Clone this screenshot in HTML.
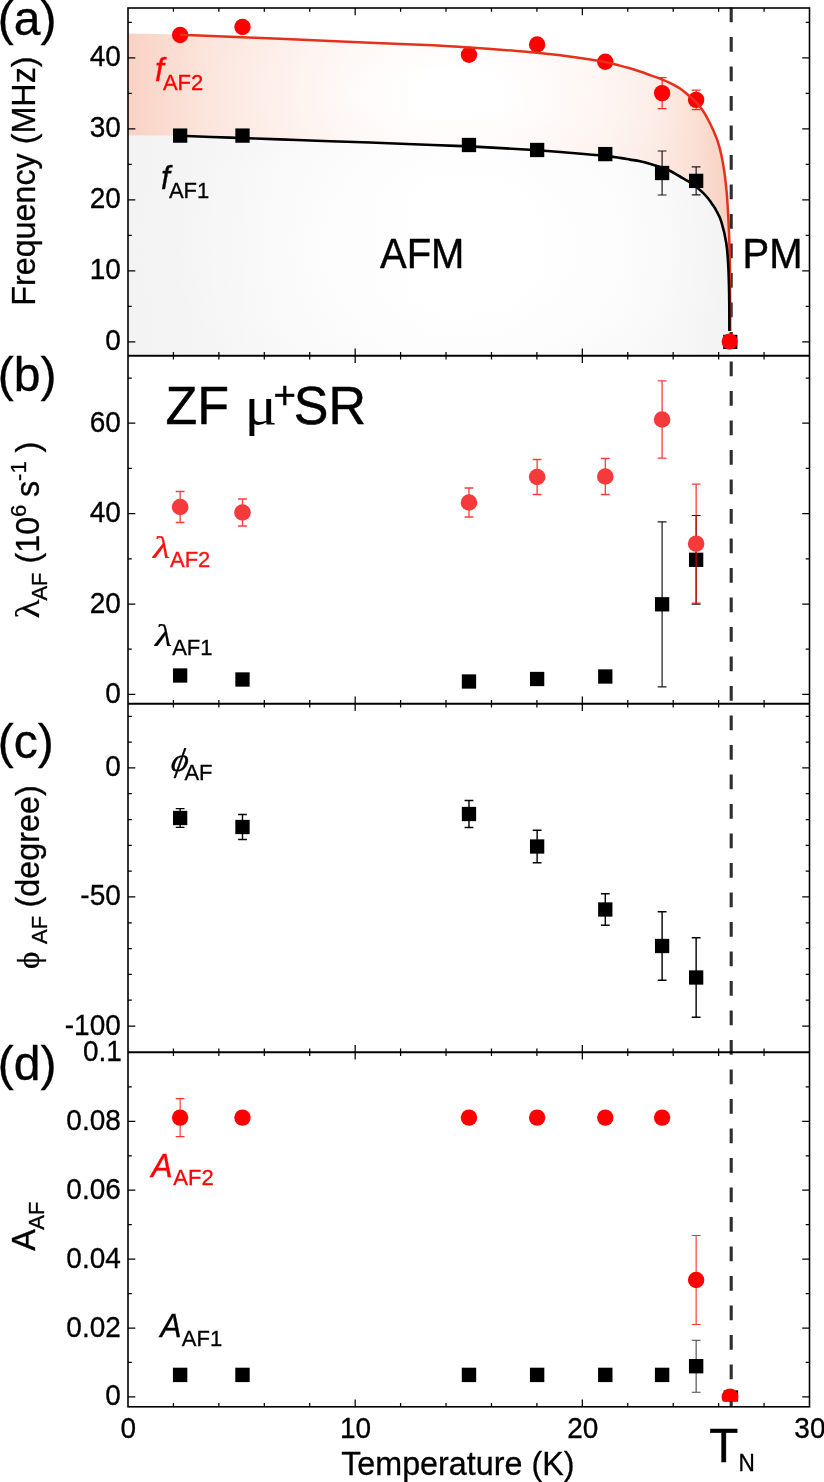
<!DOCTYPE html>
<html lang="en">
<head>
<meta charset="utf-8">
<title>ZF muSR parameters vs temperature</title>
<style>
html,body{margin:0;padding:0;background:#fff;}
body{width:824px;height:1482px;overflow:hidden;}
svg{display:block;font-family:'Liberation Sans', Arial, Helvetica, sans-serif;will-change:transform;}
text{white-space:pre;}
</style>
</head>
<body>
<svg width="824" height="1482" viewBox="0 0 824 1482">
<rect x="0" y="0" width="824" height="1482" fill="#ffffff"/>
<defs>
<linearGradient id="go" gradientUnits="userSpaceOnUse" x1="128" y1="0" x2="730" y2="0"><stop offset="0.0000" stop-color="#f9d2c4"/><stop offset="0.0532" stop-color="#fadcd1"/><stop offset="0.1196" stop-color="#fce8e0"/><stop offset="0.2027" stop-color="#fdf0eb"/><stop offset="0.2857" stop-color="#fef6f3"/><stop offset="0.3688" stop-color="#fefbfa"/><stop offset="0.4518" stop-color="#fffefd"/><stop offset="0.5017" stop-color="#ffffff"/><stop offset="0.6013" stop-color="#ffffff"/><stop offset="0.6844" stop-color="#fffdfd"/><stop offset="0.7841" stop-color="#fefaf8"/><stop offset="0.8671" stop-color="#fdf3ef"/><stop offset="0.9336" stop-color="#fce6dd"/><stop offset="0.9751" stop-color="#fad8cb"/><stop offset="1.0000" stop-color="#f9d1c2"/></linearGradient>
<radialGradient id="gv" gradientUnits="userSpaceOnUse" cx="440" cy="93" r="300" gradientTransform="translate(440 93) scale(1 0.33) translate(-440 -93)"><stop offset="0.2" stop-color="#f9d1c2" stop-opacity="0"/><stop offset="0.6" stop-color="#f9d1c2" stop-opacity="0.10"/><stop offset="1" stop-color="#f9d1c2" stop-opacity="0.22"/></radialGradient>
<linearGradient id="gg" gradientUnits="userSpaceOnUse" x1="128" y1="0" x2="730" y2="0"><stop offset="0.0000" stop-color="#f3f3f3"/><stop offset="0.0864" stop-color="#f5f5f5"/><stop offset="0.2027" stop-color="#f9f9f9"/><stop offset="0.3189" stop-color="#fcfcfc"/><stop offset="0.4352" stop-color="#fefefe"/><stop offset="0.5183" stop-color="#ffffff"/><stop offset="0.6179" stop-color="#ffffff"/><stop offset="0.7176" stop-color="#fefefe"/><stop offset="0.8173" stop-color="#fdfdfd"/><stop offset="0.9003" stop-color="#fafafa"/><stop offset="0.9585" stop-color="#f6f6f6"/><stop offset="1.0000" stop-color="#f3f3f3"/></linearGradient>
<radialGradient id="ggv" gradientUnits="userSpaceOnUse" cx="440" cy="245" r="320" gradientTransform="translate(440 245) scale(1 0.42) translate(-440 -245)"><stop offset="0.4" stop-color="#f2f2f2" stop-opacity="0"/><stop offset="0.8" stop-color="#f2f2f2" stop-opacity="0.15"/><stop offset="1" stop-color="#f2f2f2" stop-opacity="0.35"/></radialGradient>
</defs>
<path d="M128 135.4 L180 135.6 L180 135.8 C188.33 136.1 213.33 137 230 137.6 C246.67 138.2 263.33 138.8 280 139.4 C296.67 140 315 140.68 330 141.2 C345 141.72 352.83 141.87 370 142.5 C387.17 143.13 416.43 144.35 433 145 C449.57 145.65 456.23 145.78 469.4 146.4 C482.57 147.02 500.73 148.05 512 148.7 C523.27 149.35 526.5 149.55 537 150.3 C547.5 151.05 563.67 152.27 575 153.2 C586.33 154.13 597.5 155.12 605 155.9 C612.5 156.68 615.83 157.28 620 157.9 C624.17 158.52 626.67 159.03 630 159.6 C633.33 160.17 636.32 160.5 640 161.3 C643.68 162.1 648.47 163.38 652.1 164.4 C655.73 165.42 658.77 166.3 661.8 167.4 C664.83 168.5 667.27 169.48 670.3 171 C673.33 172.52 676.97 174.77 680 176.5 C683.03 178.23 685.67 179.58 688.5 181.4 C691.33 183.22 694.57 185.48 697 187.4 C699.43 189.32 701.27 191.08 703.1 192.9 C704.93 194.72 706.38 196.28 708 198.3 C709.62 200.32 711.43 202.97 712.8 205 C714.17 207.03 714.78 207.73 716.2 210.5 C717.62 213.27 719.62 216.15 721.3 221.6 C722.98 227.05 725.15 236.02 726.3 243.2 C727.45 250.38 727.75 257.52 728.2 264.7 C728.65 271.88 728.82 279.1 729 286.3 C729.18 293.5 729.23 300.45 729.3 307.9 C729.37 315.35 729.38 327.15 729.4 331 L729.6 354 L128 354 Z" fill="url(#gg)"/>
<path d="M128 135.4 L180 135.6 L180 135.8 C188.33 136.1 213.33 137 230 137.6 C246.67 138.2 263.33 138.8 280 139.4 C296.67 140 315 140.68 330 141.2 C345 141.72 352.83 141.87 370 142.5 C387.17 143.13 416.43 144.35 433 145 C449.57 145.65 456.23 145.78 469.4 146.4 C482.57 147.02 500.73 148.05 512 148.7 C523.27 149.35 526.5 149.55 537 150.3 C547.5 151.05 563.67 152.27 575 153.2 C586.33 154.13 597.5 155.12 605 155.9 C612.5 156.68 615.83 157.28 620 157.9 C624.17 158.52 626.67 159.03 630 159.6 C633.33 160.17 636.32 160.5 640 161.3 C643.68 162.1 648.47 163.38 652.1 164.4 C655.73 165.42 658.77 166.3 661.8 167.4 C664.83 168.5 667.27 169.48 670.3 171 C673.33 172.52 676.97 174.77 680 176.5 C683.03 178.23 685.67 179.58 688.5 181.4 C691.33 183.22 694.57 185.48 697 187.4 C699.43 189.32 701.27 191.08 703.1 192.9 C704.93 194.72 706.38 196.28 708 198.3 C709.62 200.32 711.43 202.97 712.8 205 C714.17 207.03 714.78 207.73 716.2 210.5 C717.62 213.27 719.62 216.15 721.3 221.6 C722.98 227.05 725.15 236.02 726.3 243.2 C727.45 250.38 727.75 257.52 728.2 264.7 C728.65 271.88 728.82 279.1 729 286.3 C729.18 293.5 729.23 300.45 729.3 307.9 C729.37 315.35 729.38 327.15 729.4 331 L729.6 354 L128 354 Z" fill="url(#ggv)"/>
<path d="M128 33.6 L180 34.4 L180 34.8 C188.33 35.13 213.33 36.13 230 36.8 C246.67 37.47 263.33 38.12 280 38.8 C296.67 39.48 315 40.25 330 40.9 C345 41.55 352.83 41.98 370 42.7 C387.17 43.42 416.43 44.38 433 45.2 C449.57 46.02 456.23 46.7 469.4 47.6 C482.57 48.5 500.73 49.73 512 50.6 C523.27 51.47 526.5 51.7 537 52.8 C547.5 53.9 563.67 55.67 575 57.2 C586.33 58.73 597.5 60.6 605 62 C612.5 63.4 615.83 64.55 620 65.6 C624.17 66.65 626.67 67.32 630 68.3 C633.33 69.28 636.32 70.25 640 71.5 C643.68 72.75 648.47 74.48 652.1 75.8 C655.73 77.12 658.77 78.18 661.8 79.4 C664.83 80.62 667.27 81.58 670.3 83.1 C673.33 84.62 676.97 86.48 680 88.5 C683.03 90.52 685.67 92.77 688.5 95.2 C691.33 97.63 694.57 100.47 697 103.1 C699.43 105.73 701.27 108.27 703.1 111 C704.93 113.73 706.38 116.47 708 119.5 C709.62 122.53 711.18 125.57 712.8 129.2 C714.42 132.83 716.28 137.05 717.7 141.3 C719.12 145.55 720.2 149.63 721.3 154.7 C722.4 159.77 723.48 166.25 724.3 171.7 C725.12 177.15 725.7 182.68 726.2 187.4 C726.7 192.12 726.92 194.3 727.3 200 C727.68 205.7 728.15 214.4 728.5 221.6 C728.85 228.8 729.15 234.22 729.4 243.2 C729.65 252.18 729.87 260.87 730 275.5 C730.13 290.13 730.17 321.75 730.2 331 L730.2 342 L729.4 342 L729.4 331 C729.38 327.15 729.37 315.35 729.3 307.9 C729.23 300.45 729.18 293.5 729 286.3 C728.82 279.1 728.65 271.88 728.2 264.7 C727.75 257.52 727.45 250.38 726.3 243.2 C725.15 236.02 722.98 227.05 721.3 221.6 C719.62 216.15 717.62 213.27 716.2 210.5 C714.78 207.73 714.17 207.03 712.8 205 C711.43 202.97 709.62 200.32 708 198.3 C706.38 196.28 704.93 194.72 703.1 192.9 C701.27 191.08 699.43 189.32 697 187.4 C694.57 185.48 691.33 183.22 688.5 181.4 C685.67 179.58 683.03 178.23 680 176.5 C676.97 174.77 673.33 172.52 670.3 171 C667.27 169.48 664.83 168.5 661.8 167.4 C658.77 166.3 655.73 165.42 652.1 164.4 C648.47 163.38 643.68 162.1 640 161.3 C636.32 160.5 633.33 160.17 630 159.6 C626.67 159.03 624.17 158.52 620 157.9 C615.83 157.28 612.5 156.68 605 155.9 C597.5 155.12 586.33 154.13 575 153.2 C563.67 152.27 547.5 151.05 537 150.3 C526.5 149.55 523.27 149.35 512 148.7 C500.73 148.05 482.57 147.02 469.4 146.4 C456.23 145.78 449.57 145.65 433 145 C416.43 144.35 387.17 143.13 370 142.5 C352.83 141.87 345 141.72 330 141.2 C315 140.68 296.67 140 280 139.4 C263.33 138.8 246.67 138.2 230 137.6 C213.33 137 188.33 136.1 180 135.8 L128 135.4 Z" fill="url(#go)"/>
<path d="M128 33.6 L180 34.4 L180 34.8 C188.33 35.13 213.33 36.13 230 36.8 C246.67 37.47 263.33 38.12 280 38.8 C296.67 39.48 315 40.25 330 40.9 C345 41.55 352.83 41.98 370 42.7 C387.17 43.42 416.43 44.38 433 45.2 C449.57 46.02 456.23 46.7 469.4 47.6 C482.57 48.5 500.73 49.73 512 50.6 C523.27 51.47 526.5 51.7 537 52.8 C547.5 53.9 563.67 55.67 575 57.2 C586.33 58.73 597.5 60.6 605 62 C612.5 63.4 615.83 64.55 620 65.6 C624.17 66.65 626.67 67.32 630 68.3 C633.33 69.28 636.32 70.25 640 71.5 C643.68 72.75 648.47 74.48 652.1 75.8 C655.73 77.12 658.77 78.18 661.8 79.4 C664.83 80.62 667.27 81.58 670.3 83.1 C673.33 84.62 676.97 86.48 680 88.5 C683.03 90.52 685.67 92.77 688.5 95.2 C691.33 97.63 694.57 100.47 697 103.1 C699.43 105.73 701.27 108.27 703.1 111 C704.93 113.73 706.38 116.47 708 119.5 C709.62 122.53 711.18 125.57 712.8 129.2 C714.42 132.83 716.28 137.05 717.7 141.3 C719.12 145.55 720.2 149.63 721.3 154.7 C722.4 159.77 723.48 166.25 724.3 171.7 C725.12 177.15 725.7 182.68 726.2 187.4 C726.7 192.12 726.92 194.3 727.3 200 C727.68 205.7 728.15 214.4 728.5 221.6 C728.85 228.8 729.15 234.22 729.4 243.2 C729.65 252.18 729.87 260.87 730 275.5 C730.13 290.13 730.17 321.75 730.2 331 L730.2 342 L729.4 342 L729.4 331 C729.38 327.15 729.37 315.35 729.3 307.9 C729.23 300.45 729.18 293.5 729 286.3 C728.82 279.1 728.65 271.88 728.2 264.7 C727.75 257.52 727.45 250.38 726.3 243.2 C725.15 236.02 722.98 227.05 721.3 221.6 C719.62 216.15 717.62 213.27 716.2 210.5 C714.78 207.73 714.17 207.03 712.8 205 C711.43 202.97 709.62 200.32 708 198.3 C706.38 196.28 704.93 194.72 703.1 192.9 C701.27 191.08 699.43 189.32 697 187.4 C694.57 185.48 691.33 183.22 688.5 181.4 C685.67 179.58 683.03 178.23 680 176.5 C676.97 174.77 673.33 172.52 670.3 171 C667.27 169.48 664.83 168.5 661.8 167.4 C658.77 166.3 655.73 165.42 652.1 164.4 C648.47 163.38 643.68 162.1 640 161.3 C636.32 160.5 633.33 160.17 630 159.6 C626.67 159.03 624.17 158.52 620 157.9 C615.83 157.28 612.5 156.68 605 155.9 C597.5 155.12 586.33 154.13 575 153.2 C563.67 152.27 547.5 151.05 537 150.3 C526.5 149.55 523.27 149.35 512 148.7 C500.73 148.05 482.57 147.02 469.4 146.4 C456.23 145.78 449.57 145.65 433 145 C416.43 144.35 387.17 143.13 370 142.5 C352.83 141.87 345 141.72 330 141.2 C315 140.68 296.67 140 280 139.4 C263.33 138.8 246.67 138.2 230 137.6 C213.33 137 188.33 136.1 180 135.8 L128 135.4 Z" fill="url(#gv)"/>
<line x1="731.2" y1="7.5" x2="731.2" y2="1406.8" stroke="#2e2e2e" stroke-width="3.1" stroke-dasharray="14.8 14.7"/>
<rect x="128" y="8" width="681.5" height="1398.8" stroke="#000" stroke-width="1.6" fill="none"/>
<line x1="128" y1="355.8" x2="809.5" y2="355.8" stroke="#000" stroke-width="2"/>
<line x1="128" y1="703.8" x2="809.5" y2="703.8" stroke="#000" stroke-width="2"/>
<line x1="128" y1="1052.2" x2="809.5" y2="1052.2" stroke="#000" stroke-width="2"/>
<path d="M173.43 8L173.43 11.8 M173.43 1406.8L173.43 1403 M173.43 352L173.43 359.6 M173.43 700L173.43 707.6 M173.43 1048.4L173.43 1056 M218.87 8L218.87 11.8 M218.87 1406.8L218.87 1403 M218.87 352L218.87 359.6 M218.87 700L218.87 707.6 M218.87 1048.4L218.87 1056 M264.3 8L264.3 11.8 M264.3 1406.8L264.3 1403 M264.3 352L264.3 359.6 M264.3 700L264.3 707.6 M264.3 1048.4L264.3 1056 M309.73 8L309.73 11.8 M309.73 1406.8L309.73 1403 M309.73 352L309.73 359.6 M309.73 700L309.73 707.6 M309.73 1048.4L309.73 1056 M355.17 8L355.17 15.3 M355.17 1406.8L355.17 1399.5 M355.17 348.5L355.17 363.1 M355.17 696.5L355.17 711.1 M355.17 1044.9L355.17 1059.5 M400.6 8L400.6 11.8 M400.6 1406.8L400.6 1403 M400.6 352L400.6 359.6 M400.6 700L400.6 707.6 M400.6 1048.4L400.6 1056 M446.03 8L446.03 11.8 M446.03 1406.8L446.03 1403 M446.03 352L446.03 359.6 M446.03 700L446.03 707.6 M446.03 1048.4L446.03 1056 M491.47 8L491.47 11.8 M491.47 1406.8L491.47 1403 M491.47 352L491.47 359.6 M491.47 700L491.47 707.6 M491.47 1048.4L491.47 1056 M536.9 8L536.9 11.8 M536.9 1406.8L536.9 1403 M536.9 352L536.9 359.6 M536.9 700L536.9 707.6 M536.9 1048.4L536.9 1056 M582.33 8L582.33 15.3 M582.33 1406.8L582.33 1399.5 M582.33 348.5L582.33 363.1 M582.33 696.5L582.33 711.1 M582.33 1044.9L582.33 1059.5 M627.77 8L627.77 11.8 M627.77 1406.8L627.77 1403 M627.77 352L627.77 359.6 M627.77 700L627.77 707.6 M627.77 1048.4L627.77 1056 M673.2 8L673.2 11.8 M673.2 1406.8L673.2 1403 M673.2 352L673.2 359.6 M673.2 700L673.2 707.6 M673.2 1048.4L673.2 1056 M718.63 8L718.63 11.8 M718.63 1406.8L718.63 1403 M718.63 352L718.63 359.6 M718.63 700L718.63 707.6 M718.63 1048.4L718.63 1056 M764.07 8L764.07 11.8 M764.07 1406.8L764.07 1403 M764.07 352L764.07 359.6 M764.07 700L764.07 707.6 M764.07 1048.4L764.07 1056 M128 341.8L135.3 341.8 M809.5 341.8L802.2 341.8 M128 270.8L135.3 270.8 M809.5 270.8L802.2 270.8 M128 199.8L135.3 199.8 M809.5 199.8L802.2 199.8 M128 128.8L135.3 128.8 M809.5 128.8L802.2 128.8 M128 57.8L135.3 57.8 M809.5 57.8L802.2 57.8 M128 306.3L131.8 306.3 M809.5 306.3L805.7 306.3 M128 235.3L131.8 235.3 M809.5 235.3L805.7 235.3 M128 164.3L131.8 164.3 M809.5 164.3L805.7 164.3 M128 93.3L131.8 93.3 M809.5 93.3L805.7 93.3 M128 22.3L131.8 22.3 M809.5 22.3L805.7 22.3 M128 694.4L135.3 694.4 M809.5 694.4L802.2 694.4 M128 604L135.3 604 M809.5 604L802.2 604 M128 513.6L135.3 513.6 M809.5 513.6L802.2 513.6 M128 423.2L135.3 423.2 M809.5 423.2L802.2 423.2 M128 649.2L131.8 649.2 M809.5 649.2L805.7 649.2 M128 558.8L131.8 558.8 M809.5 558.8L805.7 558.8 M128 468.4L131.8 468.4 M809.5 468.4L805.7 468.4 M128 378L131.8 378 M809.5 378L805.7 378 M128 767.9L135.3 767.9 M809.5 767.9L802.2 767.9 M128 896.95L135.3 896.95 M809.5 896.95L802.2 896.95 M128 1026L135.3 1026 M809.5 1026L802.2 1026 M128 716.28L131.8 716.28 M809.5 716.28L805.7 716.28 M128 742.09L131.8 742.09 M809.5 742.09L805.7 742.09 M128 793.71L131.8 793.71 M809.5 793.71L805.7 793.71 M128 819.52L131.8 819.52 M809.5 819.52L805.7 819.52 M128 845.33L131.8 845.33 M809.5 845.33L805.7 845.33 M128 871.14L131.8 871.14 M809.5 871.14L805.7 871.14 M128 922.76L131.8 922.76 M809.5 922.76L805.7 922.76 M128 948.57L131.8 948.57 M809.5 948.57L805.7 948.57 M128 974.38L131.8 974.38 M809.5 974.38L805.7 974.38 M128 1000.19L131.8 1000.19 M809.5 1000.19L805.7 1000.19 M128 1396.9L135.3 1396.9 M809.5 1396.9L802.2 1396.9 M128 1328L135.3 1328 M809.5 1328L802.2 1328 M128 1259.1L135.3 1259.1 M809.5 1259.1L802.2 1259.1 M128 1190.2L135.3 1190.2 M809.5 1190.2L802.2 1190.2 M128 1121.3L135.3 1121.3 M809.5 1121.3L802.2 1121.3 M128 1362.45L131.8 1362.45 M809.5 1362.45L805.7 1362.45 M128 1293.55L131.8 1293.55 M809.5 1293.55L805.7 1293.55 M128 1224.65L131.8 1224.65 M809.5 1224.65L805.7 1224.65 M128 1155.75L131.8 1155.75 M809.5 1155.75L805.7 1155.75 M128 1086.85L131.8 1086.85 M809.5 1086.85L805.7 1086.85" stroke="#000" stroke-width="1.25" fill="none"/>
<path d="M662.11 77.6V108.6 M657.71 77.6H666.51 M657.71 108.6H666.51" stroke="#ff2a2a" stroke-width="1.2" fill="none" opacity="1"/>
<path d="M696.14 90.1V109.7 M691.74 90.1H700.54 M691.74 109.7H700.54" stroke="#ff2a2a" stroke-width="1.2" fill="none" opacity="1"/>
<circle cx="180.13" cy="35" r="8.2" fill="#ff0000"/>
<circle cx="242.49" cy="27" r="8.2" fill="#ff0000"/>
<circle cx="468.98" cy="54.8" r="8.2" fill="#ff0000"/>
<circle cx="537.13" cy="44.5" r="8.2" fill="#ff0000"/>
<circle cx="605.28" cy="61.7" r="8.2" fill="#ff0000"/>
<circle cx="662.11" cy="93.1" r="8.2" fill="#ff0000"/>
<circle cx="696.14" cy="99.9" r="8.2" fill="#ff0000"/>
<path d="M180 34.8 C188.33 35.13 213.33 36.13 230 36.8 C246.67 37.47 263.33 38.12 280 38.8 C296.67 39.48 315 40.25 330 40.9 C345 41.55 352.83 41.98 370 42.7 C387.17 43.42 416.43 44.38 433 45.2 C449.57 46.02 456.23 46.7 469.4 47.6 C482.57 48.5 500.73 49.73 512 50.6 C523.27 51.47 526.5 51.7 537 52.8 C547.5 53.9 563.67 55.67 575 57.2 C586.33 58.73 597.5 60.6 605 62 C612.5 63.4 615.83 64.55 620 65.6 C624.17 66.65 626.67 67.32 630 68.3 C633.33 69.28 636.32 70.25 640 71.5 C643.68 72.75 648.47 74.48 652.1 75.8 C655.73 77.12 658.77 78.18 661.8 79.4 C664.83 80.62 667.27 81.58 670.3 83.1 C673.33 84.62 676.97 86.48 680 88.5 C683.03 90.52 685.67 92.77 688.5 95.2 C691.33 97.63 694.57 100.47 697 103.1 C699.43 105.73 701.27 108.27 703.1 111 C704.93 113.73 706.38 116.47 708 119.5 C709.62 122.53 711.18 125.57 712.8 129.2 C714.42 132.83 716.28 137.05 717.7 141.3 C719.12 145.55 720.2 149.63 721.3 154.7 C722.4 159.77 723.48 166.25 724.3 171.7 C725.12 177.15 725.7 182.68 726.2 187.4 C726.7 192.12 726.92 194.3 727.3 200 C727.68 205.7 728.15 214.4 728.5 221.6 C728.85 228.8 729.15 234.22 729.4 243.2 C729.65 252.18 729.87 260.87 730 275.5 C730.13 290.13 730.17 321.75 730.2 331" fill="none" stroke="#e5301c" stroke-width="2.5"/>
<path d="M662.11 151V195 M657.71 151H666.51 M657.71 195H666.51" stroke="#1a1a1a" stroke-width="1.2" fill="none" opacity="1"/>
<path d="M696.14 166.9V194.9 M691.74 166.9H700.54 M691.74 194.9H700.54" stroke="#1a1a1a" stroke-width="1.2" fill="none" opacity="1"/>
<rect x="172.98" y="128.45" width="14.3" height="14.3" fill="#000"/>
<rect x="235.34" y="128.45" width="14.3" height="14.3" fill="#000"/>
<rect x="461.83" y="137.85" width="14.3" height="14.3" fill="#000"/>
<rect x="529.98" y="142.85" width="14.3" height="14.3" fill="#000"/>
<rect x="598.13" y="146.95" width="14.3" height="14.3" fill="#000"/>
<rect x="654.96" y="165.85" width="14.3" height="14.3" fill="#000"/>
<rect x="688.99" y="173.75" width="14.3" height="14.3" fill="#000"/>
<path d="M180 135.8 C188.33 136.1 213.33 137 230 137.6 C246.67 138.2 263.33 138.8 280 139.4 C296.67 140 315 140.68 330 141.2 C345 141.72 352.83 141.87 370 142.5 C387.17 143.13 416.43 144.35 433 145 C449.57 145.65 456.23 145.78 469.4 146.4 C482.57 147.02 500.73 148.05 512 148.7 C523.27 149.35 526.5 149.55 537 150.3 C547.5 151.05 563.67 152.27 575 153.2 C586.33 154.13 597.5 155.12 605 155.9 C612.5 156.68 615.83 157.28 620 157.9 C624.17 158.52 626.67 159.03 630 159.6 C633.33 160.17 636.32 160.5 640 161.3 C643.68 162.1 648.47 163.38 652.1 164.4 C655.73 165.42 658.77 166.3 661.8 167.4 C664.83 168.5 667.27 169.48 670.3 171 C673.33 172.52 676.97 174.77 680 176.5 C683.03 178.23 685.67 179.58 688.5 181.4 C691.33 183.22 694.57 185.48 697 187.4 C699.43 189.32 701.27 191.08 703.1 192.9 C704.93 194.72 706.38 196.28 708 198.3 C709.62 200.32 711.43 202.97 712.8 205 C714.17 207.03 714.78 207.73 716.2 210.5 C717.62 213.27 719.62 216.15 721.3 221.6 C722.98 227.05 725.15 236.02 726.3 243.2 C727.45 250.38 727.75 257.52 728.2 264.7 C728.65 271.88 728.82 279.1 729 286.3 C729.18 293.5 729.23 300.45 729.3 307.9 C729.37 315.35 729.38 327.15 729.4 331" fill="none" stroke="#000" stroke-width="2.6"/>
<rect x="723.19" y="334.8" width="14.2" height="14.2" fill="#000"/>
<circle cx="729.69" cy="341.6" r="8.1" fill="#ff0000"/>
<path d="M662.11 521.8V686.8 M657.71 521.8H666.51 M657.71 686.8H666.51" stroke="#1a1a1a" stroke-width="1.2" fill="none" opacity="1"/>
<path d="M696.14 515.5V604.1 M691.74 515.5H700.54 M691.74 604.1H700.54" stroke="#1a1a1a" stroke-width="1.2" fill="none" opacity="1"/>
<rect x="172.98" y="668.35" width="14.3" height="14.3" fill="#000"/>
<rect x="235.34" y="672.35" width="14.3" height="14.3" fill="#000"/>
<rect x="461.83" y="674.35" width="14.3" height="14.3" fill="#000"/>
<rect x="529.98" y="671.85" width="14.3" height="14.3" fill="#000"/>
<rect x="598.13" y="669.35" width="14.3" height="14.3" fill="#000"/>
<rect x="654.96" y="597.15" width="14.3" height="14.3" fill="#000"/>
<rect x="688.99" y="552.65" width="14.3" height="14.3" fill="#000"/>
<g opacity="0.77">
<path d="M180.13 491.5V522.5 M175.73 491.5H184.53 M175.73 522.5H184.53" stroke="#ff0000" stroke-width="1.3" fill="none" opacity="1"/>
<path d="M242.49 499V526 M238.09 499H246.89 M238.09 526H246.89" stroke="#ff0000" stroke-width="1.3" fill="none" opacity="1"/>
<path d="M468.98 488V517 M464.58 488H473.38 M464.58 517H473.38" stroke="#ff0000" stroke-width="1.3" fill="none" opacity="1"/>
<path d="M537.13 459.5V494.5 M532.73 459.5H541.53 M532.73 494.5H541.53" stroke="#ff0000" stroke-width="1.3" fill="none" opacity="1"/>
<path d="M605.28 458.5V494.5 M600.88 458.5H609.68 M600.88 494.5H609.68" stroke="#ff0000" stroke-width="1.3" fill="none" opacity="1"/>
<path d="M662.11 380.8V458.2 M657.71 380.8H666.51 M657.71 458.2H666.51" stroke="#ff0000" stroke-width="1.3" fill="none" opacity="1"/>
<path d="M696.14 484.2V603.2 M691.74 484.2H700.54 M691.74 603.2H700.54" stroke="#ff0000" stroke-width="1.3" fill="none" opacity="1"/>
</g>
<circle cx="180.13" cy="507" r="8.3" fill="#f53a3c"/>
<circle cx="242.49" cy="512.5" r="8.3" fill="#f53a3c"/>
<circle cx="468.98" cy="502.5" r="8.3" fill="#f53a3c"/>
<circle cx="537.13" cy="477" r="8.3" fill="#f53a3c"/>
<circle cx="605.28" cy="476.5" r="8.3" fill="#f53a3c"/>
<circle cx="662.11" cy="419.5" r="8.3" fill="#f53a3c"/>
<circle cx="696.14" cy="543.7" r="8.3" fill="#f53a3c"/>
<path d="M180.13 808.6V827.4 M175.73 808.6H184.53 M175.73 827.4H184.53" stroke="#000" stroke-width="1.4" fill="none" opacity="1"/>
<path d="M242.49 814.5V839.5 M238.09 814.5H246.89 M238.09 839.5H246.89" stroke="#000" stroke-width="1.4" fill="none" opacity="1"/>
<path d="M468.98 800.5V827.5 M464.58 800.5H473.38 M464.58 827.5H473.38" stroke="#000" stroke-width="1.4" fill="none" opacity="1"/>
<path d="M537.13 830.3V862.7 M532.73 830.3H541.53 M532.73 862.7H541.53" stroke="#000" stroke-width="1.4" fill="none" opacity="1"/>
<path d="M605.28 893.8V925.2 M600.88 893.8H609.68 M600.88 925.2H609.68" stroke="#000" stroke-width="1.4" fill="none" opacity="1"/>
<path d="M662.11 911.8V980.2 M657.71 911.8H666.51 M657.71 980.2H666.51" stroke="#000" stroke-width="1.4" fill="none" opacity="1"/>
<path d="M696.14 937.8V1017.2 M691.74 937.8H700.54 M691.74 1017.2H700.54" stroke="#000" stroke-width="1.4" fill="none" opacity="1"/>
<rect x="172.98" y="810.85" width="14.3" height="14.3" fill="#000"/>
<rect x="235.34" y="819.85" width="14.3" height="14.3" fill="#000"/>
<rect x="461.83" y="806.85" width="14.3" height="14.3" fill="#000"/>
<rect x="529.98" y="839.35" width="14.3" height="14.3" fill="#000"/>
<rect x="598.13" y="902.35" width="14.3" height="14.3" fill="#000"/>
<rect x="654.96" y="938.85" width="14.3" height="14.3" fill="#000"/>
<rect x="688.99" y="970.35" width="14.3" height="14.3" fill="#000"/>
<path d="M696.14 1340.2V1392.2 M691.74 1340.2H700.54 M691.74 1392.2H700.54" stroke="#444" stroke-width="1.1" fill="none" opacity="1"/>
<rect x="172.93" y="1367.7" width="14.4" height="14.4" fill="#000"/>
<rect x="235.29" y="1367.7" width="14.4" height="14.4" fill="#000"/>
<rect x="461.78" y="1367.7" width="14.4" height="14.4" fill="#000"/>
<rect x="529.93" y="1367.7" width="14.4" height="14.4" fill="#000"/>
<rect x="598.08" y="1367.7" width="14.4" height="14.4" fill="#000"/>
<rect x="654.91" y="1367.7" width="14.4" height="14.4" fill="#000"/>
<rect x="688.94" y="1359" width="14.4" height="14.4" fill="#000"/>
<path d="M180.13 1098.6V1136.6 M175.73 1098.6H184.53 M175.73 1136.6H184.53" stroke="#ff3030" stroke-width="1.1" fill="none" opacity="1"/>
<path d="M696.14 1235.5V1324.5 M691.74 1235.5H700.54 M691.74 1324.5H700.54" stroke="#ff3030" stroke-width="1.1" fill="none" opacity="1"/>
<circle cx="180.13" cy="1117.6" r="8.2" fill="#ff0000"/>
<circle cx="242.49" cy="1117.6" r="8.2" fill="#ff0000"/>
<circle cx="468.98" cy="1117.6" r="8.2" fill="#ff0000"/>
<circle cx="537.13" cy="1117.6" r="8.2" fill="#ff0000"/>
<circle cx="605.28" cy="1117.6" r="8.2" fill="#ff0000"/>
<circle cx="662.11" cy="1117.6" r="8.2" fill="#ff0000"/>
<circle cx="696.14" cy="1280" r="8.2" fill="#ff0000"/>
<clipPath id="cd"><rect x="700" y="1380" width="60" height="21.5"/></clipPath>
<g clip-path="url(#cd)">
<rect x="723.69" y="1390.4" width="14.4" height="14.4" fill="#000"/>
<circle cx="729.99" cy="1397" r="8.4" fill="#ff0000"/>
</g>
<text transform="translate(120.8 350.3) scale(1 1.055)" font-size="28" fill="#000" stroke="#000" stroke-width="0.3" text-anchor="end" >0</text>
<text transform="translate(120.8 279.3) scale(1 1.055)" font-size="28" fill="#000" stroke="#000" stroke-width="0.3" text-anchor="end" >10</text>
<text transform="translate(120.8 208.3) scale(1 1.055)" font-size="28" fill="#000" stroke="#000" stroke-width="0.3" text-anchor="end" >20</text>
<text transform="translate(120.8 137.3) scale(1 1.055)" font-size="28" fill="#000" stroke="#000" stroke-width="0.3" text-anchor="end" >30</text>
<text transform="translate(120.8 66.3) scale(1 1.055)" font-size="28" fill="#000" stroke="#000" stroke-width="0.3" text-anchor="end" >40</text>
<text transform="translate(120.8 702.9) scale(1 1.055)" font-size="28" fill="#000" stroke="#000" stroke-width="0.3" text-anchor="end" >0</text>
<text transform="translate(120.8 612.5) scale(1 1.055)" font-size="28" fill="#000" stroke="#000" stroke-width="0.3" text-anchor="end" >20</text>
<text transform="translate(120.8 522.1) scale(1 1.055)" font-size="28" fill="#000" stroke="#000" stroke-width="0.3" text-anchor="end" >40</text>
<text transform="translate(120.8 431.7) scale(1 1.055)" font-size="28" fill="#000" stroke="#000" stroke-width="0.3" text-anchor="end" >60</text>
<text transform="translate(120.8 776.4) scale(1 1.055)" font-size="28" fill="#000" stroke="#000" stroke-width="0.3" text-anchor="end" >0</text>
<text transform="translate(120.8 905.45) scale(1 1.055)" font-size="28" fill="#000" stroke="#000" stroke-width="0.3" text-anchor="end" >-50</text>
<text transform="translate(120.8 1034.5) scale(1 1.055)" font-size="28" fill="#000" stroke="#000" stroke-width="0.3" text-anchor="end" >-100</text>
<text transform="translate(120.8 1405.4) scale(1 1.055)" font-size="28" fill="#000" stroke="#000" stroke-width="0.3" text-anchor="end" >0</text>
<text transform="translate(120.8 1336.5) scale(1 1.055)" font-size="28" fill="#000" stroke="#000" stroke-width="0.3" text-anchor="end" >0.02</text>
<text transform="translate(120.8 1267.6) scale(1 1.055)" font-size="28" fill="#000" stroke="#000" stroke-width="0.3" text-anchor="end" >0.04</text>
<text transform="translate(120.8 1198.7) scale(1 1.055)" font-size="28" fill="#000" stroke="#000" stroke-width="0.3" text-anchor="end" >0.06</text>
<text transform="translate(120.8 1129.8) scale(1 1.055)" font-size="28" fill="#000" stroke="#000" stroke-width="0.3" text-anchor="end" >0.08</text>
<text transform="translate(121.8 1060.9) scale(1 1.055)" font-size="28" fill="#000" stroke="#000" stroke-width="0.3" text-anchor="end" >0.1</text>
<text transform="translate(128.4 1437.5) scale(1 1.055)" font-size="28" fill="#000" stroke="#000" stroke-width="0.3" text-anchor="middle" >0</text>
<text transform="translate(355.57 1437.5) scale(1 1.055)" font-size="28" fill="#000" stroke="#000" stroke-width="0.3" text-anchor="middle" >10</text>
<text transform="translate(582.73 1437.5) scale(1 1.055)" font-size="28" fill="#000" stroke="#000" stroke-width="0.3" text-anchor="middle" >20</text>
<text transform="translate(809.9 1437.5) scale(1 1.055)" font-size="28" fill="#000" stroke="#000" stroke-width="0.3" text-anchor="middle" >30</text>
<text transform="translate(-2.2 35.3) scale(1 1.0)" font-size="48" fill="#000" stroke="#000" stroke-width="0.35" text-anchor="start" >(a)</text>
<text transform="translate(-2.2 390.7) scale(1 1.0)" font-size="48" fill="#000" stroke="#000" stroke-width="0.35" text-anchor="start" >(b)</text>
<text transform="translate(-2.2 757.5) scale(1 1.0)" font-size="48" fill="#000" stroke="#000" stroke-width="0.35" text-anchor="start" >(c)</text>
<text transform="translate(-2.2 1080.3) scale(1 1.0)" font-size="48" fill="#000" stroke="#000" stroke-width="0.35" text-anchor="start" >(d)</text>
<text transform="translate(457.8 1474.6) scale(1 1.04)" font-size="32.3" fill="#000" stroke="#000" stroke-width="0.3" text-anchor="middle" >Temperature (K)</text>
<g transform="translate(34.6 305.8) rotate(-90)">
<text transform="translate(0 0) scale(1 1.04)" font-size="32.3" fill="#000" stroke="#000" stroke-width="0.3" text-anchor="start" >Frequency (MHz)</text>
</g>
<g transform="translate(39.1 618.5) rotate(-90)">
<text transform="translate(0 0) scale(1.2 1.0)" font-size="33" fill="#000" stroke="#000" stroke-width="0.2" text-anchor="start" font-family='"Liberation Serif", "DejaVu Serif", serif'>λ</text>
<text transform="translate(17.9 7.8) scale(1 1.04)" font-size="22" fill="#000" stroke="#000" stroke-width="0.3" text-anchor="start" >AF</text>
<text transform="translate(55 0) scale(1 1.04)" font-size="32.3" fill="#000" stroke="#000" stroke-width="0.3" text-anchor="start" >(10</text>
<text transform="translate(101.6 -13.5) scale(1 1.04)" font-size="22" fill="#000" stroke="#000" stroke-width="0.3" text-anchor="start" >6</text>
<text transform="translate(121.5 0) scale(1 1.04)" font-size="32.3" fill="#000" stroke="#000" stroke-width="0.3" text-anchor="start" >s</text>
<text transform="translate(137.6 -13.5) scale(1 1.04)" font-size="22" fill="#000" stroke="#000" stroke-width="0.3" text-anchor="start" >-1</text>
<text transform="translate(165.9 0) scale(1 1.04)" font-size="32.3" fill="#000" stroke="#000" stroke-width="0.3" text-anchor="start" >)</text>
</g>
<g transform="translate(39.1 968) rotate(-90)">
<text transform="translate(-0.9 0) scale(1 0.97)" font-size="33" fill="#000" stroke="#000" stroke-width="0.35" text-anchor="start" font-family='"Liberation Serif", "DejaVu Serif", serif'>ϕ</text>
<text transform="translate(24.1 7.8) scale(1 1.04)" font-size="22" fill="#000" stroke="#000" stroke-width="0.3" text-anchor="start" >AF</text>
<text transform="translate(60.6 0) scale(1 1.04)" font-size="32.3" fill="#000" stroke="#000" stroke-width="0.3" text-anchor="start" >(degree)</text>
</g>
<g transform="translate(35.3 1250.8) rotate(-90)">
<text transform="translate(0 0) scale(1 1.04)" font-size="32.3" fill="#000" stroke="#000" stroke-width="0.3" text-anchor="start" >A</text>
<text transform="translate(21.1 8.7) scale(1 1.04)" font-size="22" fill="#000" stroke="#000" stroke-width="0.3" text-anchor="start" >AF</text>
</g>
<text transform="translate(709.2 1461.8) scale(1 1.03)" font-size="47.5" fill="#000" stroke="#000" stroke-width="0.4" text-anchor="start" >T</text>
<text transform="translate(738.6 1470.7) scale(1 1.04)" font-size="22.6" fill="#000" stroke="#000" stroke-width="0.3" text-anchor="start" >N</text>
<text transform="translate(155.1 80.7) scale(1 1.04)" font-size="32.0" fill="#ff0000" stroke="#ff0000" stroke-width="0.3" text-anchor="start" font-style='italic'>f</text>
<text transform="translate(162.9 89.9) scale(1 1.04)" font-size="22" fill="#ff0000" stroke="#ff0000" stroke-width="0.3" text-anchor="start" >AF2</text>
<text transform="translate(160.9 188.6) scale(1 1.04)" font-size="32.0" fill="#000" stroke="#000" stroke-width="0.3" text-anchor="start" font-style='italic'>f</text>
<text transform="translate(168.9 197.6) scale(1 1.04)" font-size="22" fill="#000" stroke="#000" stroke-width="0.3" text-anchor="start" >AF1</text>
<text transform="translate(153 557.6) scale(1.2 0.96)" font-size="33" fill="#ff1010" stroke="#ff1010" stroke-width="0.2" text-anchor="start" font-style='italic' font-family='"Liberation Serif", "DejaVu Serif", serif'>λ</text>
<text transform="translate(170 566.6) scale(1 1.04)" font-size="22" fill="#ff1010" stroke="#ff1010" stroke-width="0.3" text-anchor="start" >AF2</text>
<text transform="translate(155 646.4) scale(1.2 0.96)" font-size="33" fill="#000" stroke="#000" stroke-width="0.2" text-anchor="start" font-style='italic' font-family='"Liberation Serif", "DejaVu Serif", serif'>λ</text>
<text transform="translate(172.2 654.9) scale(1 1.04)" font-size="22" fill="#000" stroke="#000" stroke-width="0.3" text-anchor="start" >AF1</text>
<text transform="translate(170 771.4) skewX(-10) scale(1 1)" font-size="33" fill="#000" stroke="#000" stroke-width="0.4" text-anchor="start" font-style='italic' font-family='"Liberation Serif", "DejaVu Serif", serif'>ϕ</text>
<text transform="translate(184.4 779.7) scale(1 1.04)" font-size="22" fill="#000" stroke="#000" stroke-width="0.3" text-anchor="start" >AF</text>
<text transform="translate(151.2 1176.5) scale(1 1.04)" font-size="32.0" fill="#ff0000" stroke="#ff0000" stroke-width="0.3" text-anchor="start" font-style='italic'>A</text>
<text transform="translate(173.3 1185.2) scale(1 1.04)" font-size="22" fill="#ff0000" stroke="#ff0000" stroke-width="0.3" text-anchor="start" >AF2</text>
<text transform="translate(160.2 1336.7) scale(1 1.04)" font-size="32.0" fill="#000" stroke="#000" stroke-width="0.3" text-anchor="start" font-style='italic'>A</text>
<text transform="translate(181.8 1345.6) scale(1 1.04)" font-size="22" fill="#000" stroke="#000" stroke-width="0.3" text-anchor="start" >AF1</text>
<text transform="translate(380 268) scale(1 1.04)" font-size="40.0" fill="#000" stroke="#000" stroke-width="0.4" text-anchor="start" >AFM</text>
<text transform="translate(742.6 268) scale(1 1.04)" font-size="40.0" fill="#000" stroke="#000" stroke-width="0.4" text-anchor="start" >PM</text>
<text transform="translate(165.5 424.4) scale(1 1.04)" font-size="52" fill="#000" stroke="#000" stroke-width="0.45" text-anchor="start" >ZF</text>
<text transform="translate(244.6 424.4) scale(1.13 1.0)" font-size="54" fill="#000" text-anchor="start" font-family='"Liberation Serif", "DejaVu Serif", serif'>μ</text>
<text transform="translate(273.6 407.8) scale(1 1.0)" font-size="38.5" fill="#000" stroke="#000" stroke-width="0.4" text-anchor="start" >+</text>
<text transform="translate(293.7 424.4) scale(1 1.04)" font-size="52" fill="#000" stroke="#000" stroke-width="0.45" text-anchor="start" >SR</text>
</svg>
</body>
</html>
